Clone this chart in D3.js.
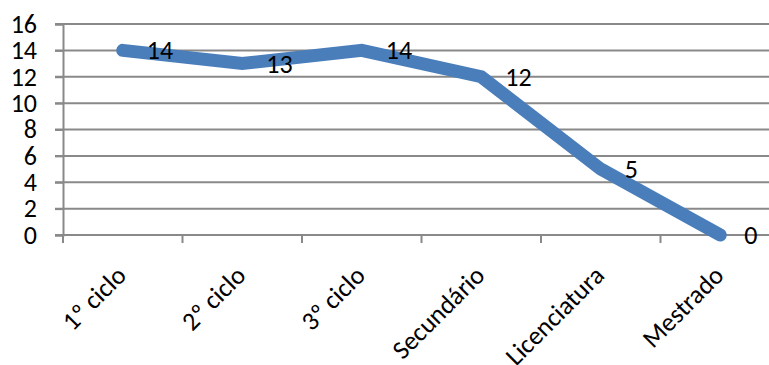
<!DOCTYPE html>
<html>
<head>
<meta charset="utf-8">
<script src="https://cdn.jsdelivr.net/npm/d3@7"></script>
<style>
  html, body { margin: 0; padding: 0; background: #fff; overflow: hidden; }
  svg text { font-family: Carlito, Calibri, "Open Sans", sans-serif; fill: #000; }
</style>
</head>
<body>
<svg id="chart" width="769" height="365"></svg>
<script>
// Education level counts
const categories = ["1º ciclo", "2º ciclo", "3º ciclo", "Secundário", "Licenciatura", "Mestrado"];
const values = [14, 13, 14, 12, 5, 0];
const yTicks = [0, 2, 4, 6, 8, 10, 12, 14, 16];

const svg = d3.select("#chart");
const plotLeft = 63, plotTop = 24, plotBottom = 235, band = 119.5;
const plotRight = plotLeft + band * categories.length;

const x = d3.scaleBand().domain(categories).range([plotLeft, plotRight]).paddingInner(0).paddingOuter(0);
const y = d3.scaleLinear().domain([0, 16]).range([plotBottom, plotTop]);

const gridColor = "#898989";
const fontSize = 26;
const fontFamily = 'Carlito, Calibri, "Open Sans", sans-serif';

// horizontal gridlines
svg.append("g")
  .selectAll("line")
  .data(yTicks)
  .join("line")
  .attr("x1", plotLeft - 8).attr("x2", plotRight)
  .attr("y1", d => y(d)).attr("y2", d => y(d))
  .attr("stroke", gridColor).attr("stroke-width", 2);

// y axis
const yAxis = svg.append("g")
  .attr("transform", `translate(${plotLeft},0)`)
  .call(d3.axisLeft(y).tickValues(yTicks).tickSize(8).tickPadding(18));
yAxis.select(".domain").attr("stroke", gridColor).attr("stroke-width", 2);
yAxis.selectAll(".tick line").attr("stroke", gridColor).attr("stroke-width", 2);
yAxis.selectAll(".tick text")
  .style("font-size", fontSize + "px")
  .style("font-family", fontFamily)
  .attr("fill", "#000");

// x axis with ticks on category boundaries
const xAxisG = svg.append("g").attr("transform", `translate(0,${plotBottom})`);
xAxisG.append("line")
  .attr("x1", plotLeft).attr("x2", plotRight).attr("y1", 0).attr("y2", 0)
  .attr("stroke", gridColor).attr("stroke-width", 2);
xAxisG.selectAll("line.tick")
  .data(categories)
  .join("line")
  .attr("class", "tick")
  .attr("x1", d => x(d)).attr("x2", d => x(d))
  .attr("y1", 0).attr("y2", 8)
  .attr("stroke", gridColor).attr("stroke-width", 2);

// rotated category labels
xAxisG.selectAll("text.cat")
  .data(categories)
  .join("text")
  .attr("class", "cat")
  .attr("text-anchor", "end")
  .style("font-size", fontSize + "px")
  .attr("transform", d => `translate(${x(d) + x.bandwidth() / 2 + 5},${42}) rotate(-45)`)
  .text(d => d);

// data line
const cx = d => x(d) + x.bandwidth() / 2;
const line = d3.line().x((d, i) => cx(categories[i])).y(d => y(d));
svg.append("path")
  .datum(values)
  .attr("d", line)
  .attr("fill", "none")
  .attr("stroke", "#4a7ebb")
  .attr("stroke-width", 13)
  .attr("stroke-linecap", "round")
  .attr("stroke-linejoin", "miter");

// value labels to the right of each point
svg.append("g")
  .selectAll("text")
  .data(values)
  .join("text")
  .attr("x", (d, i) => cx(categories[i]) + 24)
  .attr("y", d => y(d))
  .attr("dy", "0.35em")
  .style("font-size", fontSize + "px")
  .text(d => d);
</script>
</body>
</html>
